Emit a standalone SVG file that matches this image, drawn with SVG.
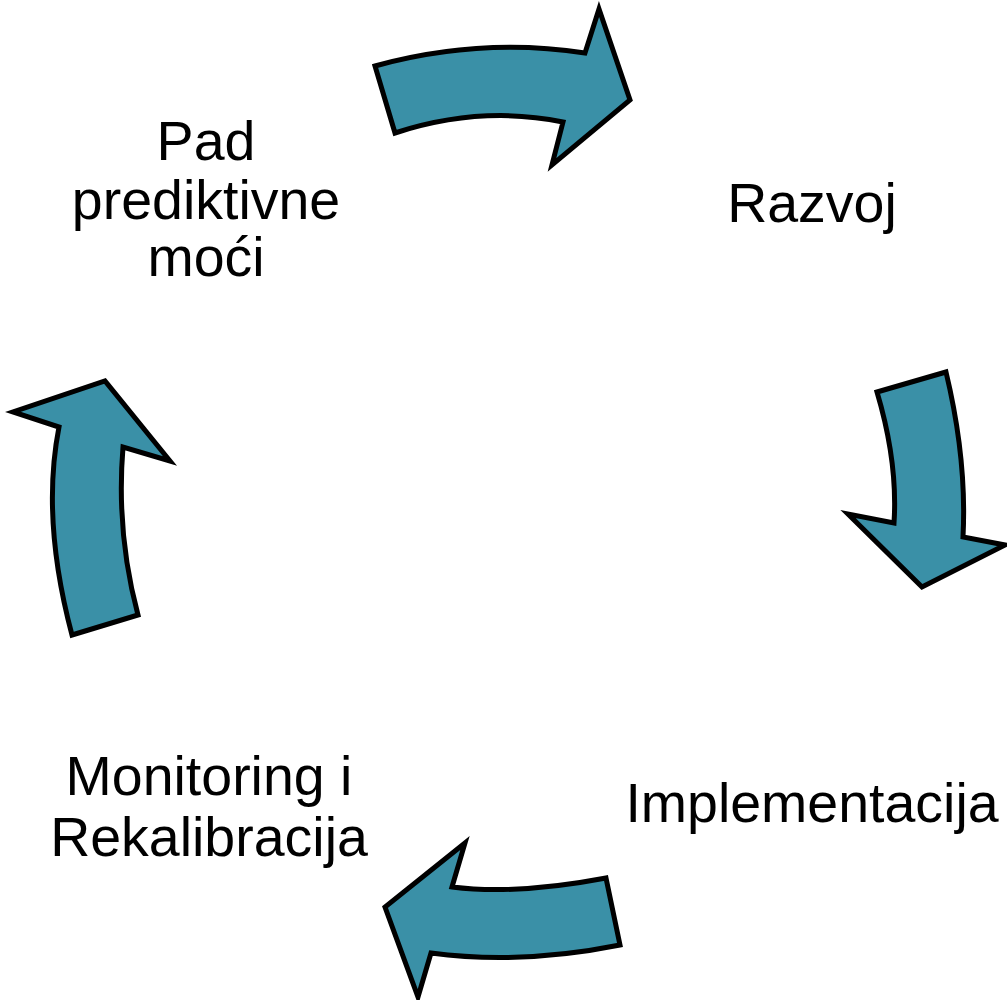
<svg xmlns="http://www.w3.org/2000/svg" width="1007" height="1000" viewBox="0 0 1007 1000">
<style>
.arrow{fill:#3a90a7;stroke:#000;stroke-width:5;stroke-linejoin:miter}
.lbl{font-family:"Liberation Sans",Arial,sans-serif;font-size:55.5px;fill:#000;text-anchor:middle}
</style>
<rect width="1007" height="1000" fill="#fff"/>
<g id="connectors">
<path class="arrow" d="M375,66 Q480,37 585,53 L599,9 L630,100 L552,165 L563,122 Q481,105 395,133 Z"/>
<path class="arrow" d="M877,392 L946,372 Q967,459.5 963,537 L1005,545 L922,587 L848,514 L894,523 Q898,462.5 877,392 Z"/>
<path class="arrow" d="M606,878 L620,945 Q520.5,965 431,953 L418,997 L385,907 L465,843 L452,887 Q517,895 606,878 Z"/>
<path class="arrow" d="M72,635 L138,615 Q116,533 123,447 L170,461 L105,381 L13,412 L59,427 Q41,519 72,635 Z"/>
</g>
<g id="node-pad">
<text class="lbl" x="206" y="160">Pad</text>
<text class="lbl" x="206" y="219">prediktivne</text>
<text class="lbl" x="206" y="276">moći</text>
</g>
<g id="node-razvoj">
<text class="lbl" x="812" y="222">Razvoj</text>
</g>
<g id="node-implementacija">
<text class="lbl" x="812" y="822">Implementacija</text>
</g>
<g id="node-monitoring">
<text class="lbl" x="209" y="795">Monitoring i</text>
<text class="lbl" x="209" y="856">Rekalibracija</text>
</g>
</svg>
